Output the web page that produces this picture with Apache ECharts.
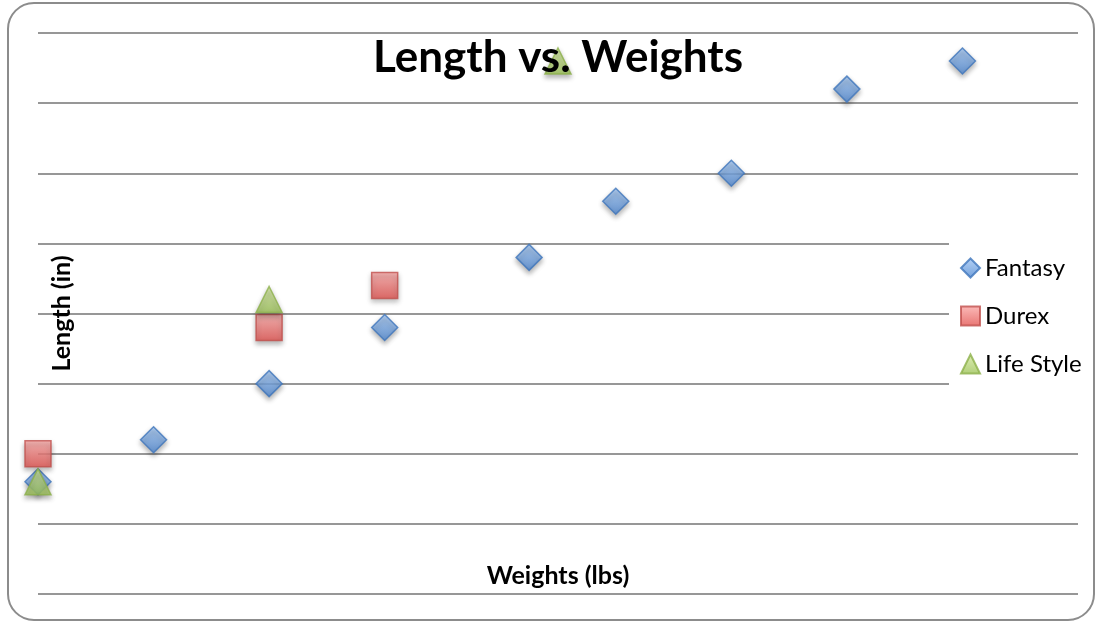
<!DOCTYPE html>
<html>
<head>
<meta charset="utf-8">
<title>Length vs. Weights</title>
<script src="https://cdn.jsdelivr.net/npm/echarts@6/dist/echarts.min.js"></script>
<style>
  html, body { margin: 0; padding: 0; background: #ffffff; }
  #chart { width: 1102px; height: 623px; }
</style>
</head>
<body>
<div id="chart"></div>
<script>
// Weight (x) and length (y) readings for each brand
const fantasyWeights = [0, 1, 2, 3, 4.25, 5, 6, 7, 8];
const fantasyLengths = [1.6, 2.2, 3.0, 3.8, 4.8, 5.6, 6.0, 7.2, 7.6];

const durexWeights = [0, 2, 3];
const durexLengths = [2.0, 3.8, 4.4];

const lifeStyleWeights = [0, 2, 4.5];
const lifeStyleLengths = [1.6, 4.2, 7.6];

const seriesNames = ['Fantasy', 'Durex', 'Life Style'];

function pairs(xs, ys) {
  return xs.map((x, i) => [x, ys[i]]);
}

function grad(top, bottom) {
  return new echarts.graphic.LinearGradient(0, 0, 0, 1, [
    { offset: 0, color: top },
    { offset: 1, color: bottom }
  ]);
}

const markerShadow = {
  shadowBlur: 5,
  shadowOffsetX: 0,
  shadowOffsetY: 3,
  shadowColor: 'rgba(0,0,0,0.35)'
};

const chart = echarts.init(document.getElementById('chart'), null, { renderer: 'canvas' });

chart.setOption({
  backgroundColor: '#ffffff',
  animation: false,
  title: {
    text: 'Length vs. Weights',
    left: 558,
    top: 36,
    padding: 0,
    z: 10,
    textAlign: 'center',
    textStyle: {
      fontFamily: 'Lato',
      fontWeight: 'bold',
      fontSize: 44,
      color: '#000000'
    }
  },
  legend: {
    orient: 'vertical',
    left: 949,
    top: 238,
    padding: [18, 10, 16, 11],
    backgroundColor: '#ffffff',
    itemWidth: 19,
    itemHeight: 19,
    itemGap: 24,
    textStyle: {
      fontFamily: 'Lato',
      fontSize: 24,
      color: '#000000'
    },
    data: seriesNames
  },
  grid: {
    left: 38,
    right: 24,
    top: 33,
    bottom: 29
  },
  xAxis: {
    type: 'value',
    min: 0,
    max: 9,
    interval: 1,
    name: 'Weights (lbs)',
    nameLocation: 'middle',
    nameGap: -31,
    nameTextStyle: {
      fontFamily: 'Lato',
      fontWeight: 'bold',
      fontSize: 25,
      color: '#000000'
    },
    axisLine: { show: false },
    axisTick: { show: false },
    axisLabel: { show: false },
    splitLine: { show: false }
  },
  yAxis: {
    type: 'value',
    min: 0,
    max: 8,
    interval: 1,
    name: 'Length (in)',
    nameLocation: 'middle',
    nameRotate: 90,
    nameGap: -36,
    nameTextStyle: {
      fontFamily: 'Lato',
      fontWeight: 'bold',
      fontSize: 25,
      color: '#000000'
    },
    axisLine: { show: false },
    axisTick: { show: false },
    axisLabel: { show: false },
    splitLine: {
      show: true,
      lineStyle: { color: '#979797', width: 2 }
    }
  },
  series: [
    {
      name: 'Fantasy',
      type: 'scatter',
      symbol: 'diamond',
      symbolSize: 26,
      data: pairs(fantasyWeights, fantasyLengths),
      itemStyle: Object.assign({
        color: grad('#a4c8f4', '#4f88d2'),
        borderColor: '#3f76bb',
        borderWidth: 1.5
      }, markerShadow)
    },
    {
      name: 'Durex',
      type: 'scatter',
      symbol: 'rect',
      symbolSize: 26,
      data: pairs(durexWeights, durexLengths),
      itemStyle: Object.assign({
        color: grad('#fbaaa8', '#e2524f'),
        borderColor: '#c0504d',
        borderWidth: 1.5
      }, markerShadow)
    },
    {
      name: 'Life Style',
      type: 'scatter',
      symbol: 'triangle',
      symbolSize: 26,
      data: pairs(lifeStyleWeights, lifeStyleLengths),
      itemStyle: Object.assign({
        color: grad('#d6eaa2', '#9cc257'),
        borderColor: '#8cb04a',
        borderWidth: 1.5
      }, markerShadow)
    }
  ],
  graphic: [
    {
      type: 'rect',
      silent: true,
      z: -1,
      shape: { x: 8, y: 3, width: 1086, height: 617, r: 26 },
      style: { fill: 'none', stroke: '#8c8c8c', lineWidth: 2 }
    }
  ]
});
</script>
</body>
</html>
